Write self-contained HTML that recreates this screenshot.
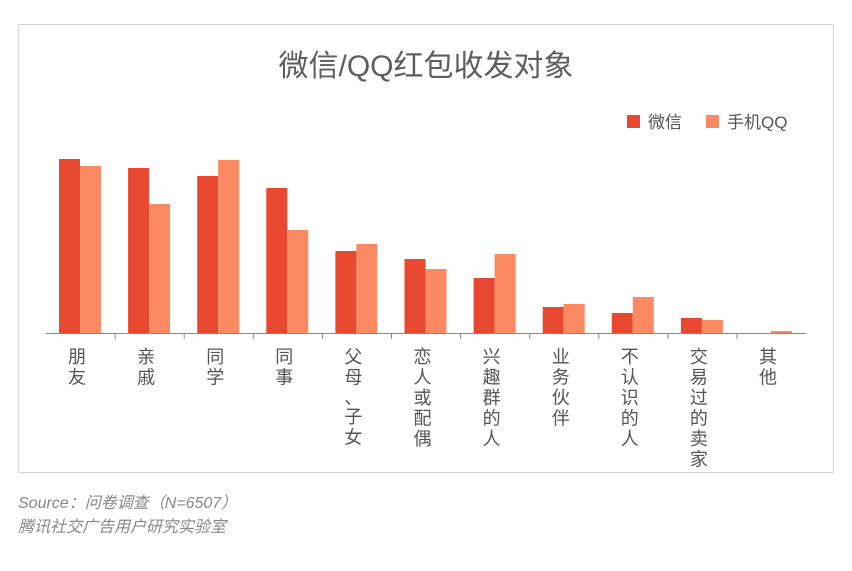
<!DOCTYPE html>
<html><head><meta charset="utf-8"><style>
body{margin:0;background:#fff;width:852px;height:571px;overflow:hidden;font-family:"Liberation Sans","Noto Sans CJK SC",sans-serif}
</style></head><body>
<svg width="852" height="571" xmlns="http://www.w3.org/2000/svg" style="position:absolute;left:0;top:0">
<rect x="18.5" y="24.5" width="815" height="448" fill="#fff" stroke="#d6d6d6"/>
<text x="426" y="76" text-anchor="middle" font-size="30" fill="#5e5e5e" font-family="Liberation Sans,Noto Sans CJK SC,sans-serif">微信/QQ红包收发对象</text>
<rect x="627" y="115" width="13" height="13" fill="#E8482F"/>
<text x="648" y="128" font-size="17" fill="#555" font-family="Liberation Sans,Noto Sans CJK SC,sans-serif">微信</text>
<rect x="706" y="115" width="13" height="13" fill="#FB8A63"/>
<text x="727" y="128" font-size="17" fill="#555" font-family="Liberation Sans,Noto Sans CJK SC,sans-serif">手机QQ</text>
<g id="bars"></g>
<line x1="46" y1="333.5" x2="806" y2="333.5" stroke="#888" stroke-width="1"/>
<g id="ticks" stroke="#888"></g>
<g id="labels" font-size="18" fill="#555" text-anchor="middle" font-family="Liberation Sans,Noto Sans CJK SC,sans-serif"></g>
<text x="18" y="508" font-size="16" fill="#888" font-style="italic" font-family="Liberation Sans,Noto Sans CJK SC,sans-serif">Source：问卷调查（N=6507）</text>
<text x="18" y="532" font-size="16" fill="#888" font-style="italic" font-family="Liberation Sans,Noto Sans CJK SC,sans-serif">腾讯社交广告用户研究实验室</text>
</svg>
<script>
var d=[["朋友",159,166],["亲戚",168,204],["同学",176,160],["同事",188,230],["父母、子女",251,244],["恋人或配偶",259,269],["兴趣群的人",278,254],["业务伙伴",307,304],["不认识的人",313,297],["交易过的卖家",318,320],["其他",333,331]];
var ns="http://www.w3.org/2000/svg";
function el(t,a,p){var e=document.createElementNS(ns,t);for(var k in a)e.setAttribute(k,a[k]);document.getElementById(p).appendChild(e);return e;}
var w=69.1;
d.forEach(function(r,i){var x0=46+w*i;
 if(r[1]<333)el("rect",{x:x0+13,y:r[1],width:21,height:333-r[1],fill:"#E8482F"},"bars");
 el("rect",{x:x0+34,y:r[2],width:21,height:333-r[2],fill:"#FB8A63"},"bars");
 if(i>0)el("line",{x1:x0,y1:333,x2:x0,y2:339},"ticks");
 var cs=r[0].split("");var y=363;
 cs.forEach(function(c){var t=el("text",{x:x0+31,y:y},"labels");t.textContent=c;y+=c=="、"?19:20.5;});
});
</script>
</body></html>
